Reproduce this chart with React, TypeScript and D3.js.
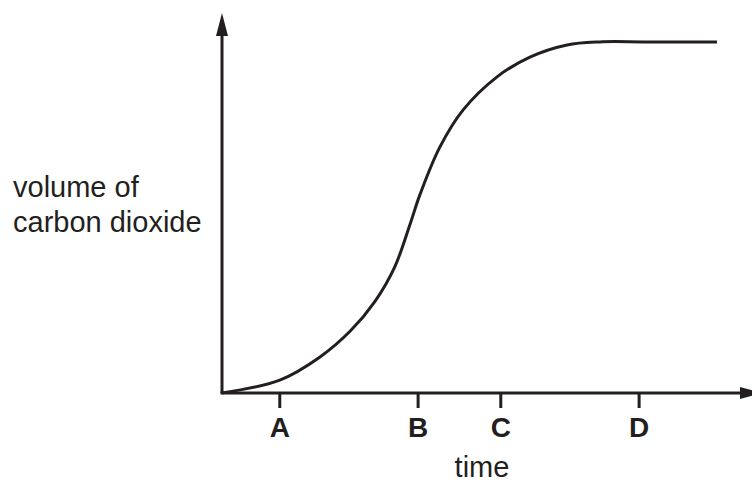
import React from "react";
import * as d3 from "d3";

const timeValues = [0, 10.9, 18.5, 24.2, 28.9, 32.6, 35.5, 37.4, 41.1, 45.5, 51.9, 58.1, 65.1, 71.3, 80.0, 93.4];
const volumeValues = [0, 3.4, 9.5, 16.3, 24.2, 33.2, 44.5, 52.4, 64.7, 74.5, 83.2, 88.4, 91.6, 92.4, 92.4, 92.4];
const tickLabels = ["A", "B", "C", "D"];
const tickPositions = [10.9, 37.0, 52.6, 78.7];
const yLabelLines = ["volume of", "carbon dioxide"];
const xLabel = "time";

const W = 752;
const H = 488;
const INK = "#231f20";

export default function App() {
  const x = d3.scaleLinear().domain([0, 100]).range([222, 752]);
  const y = d3.scaleLinear().domain([0, 100]).range([393, 13]);
  const pts: [number, number][] = timeValues.map((t, i) => [t, volumeValues[i]]);
  const line = d3
    .line<[number, number]>()
    .x((d) => x(d[0]))
    .y((d) => y(d[1]))
    .curve(d3.curveCatmullRom.alpha(0.5));

  const x0 = x(0);
  const y0 = y(0);
  const yTop = y(100);

  return (
    <svg
      width={W}
      height={H}
      style={{ position: "absolute", left: 0, top: 0, background: "#fff" }}
      fontFamily="'Liberation Sans', Arial, sans-serif"
    >
      {/* axes */}
      <line x1={x0} y1={y0} x2={x0} y2={yTop + 20} stroke={INK} strokeWidth={3} />
      <polygon points={`${x0},${yTop} ${x0 - 6},${yTop + 23} ${x0 + 6},${yTop + 23}`} fill={INK} />
      <line x1={x0 - 1.5} y1={y0} x2={742} y2={y0} stroke={INK} strokeWidth={3} />
      <polygon points={`763,${y0} 740,${y0 - 6} 740,${y0 + 6}`} fill={INK} />

      {/* ticks */}
      {tickPositions.map((t, i) => (
        <g key={tickLabels[i]}>
          <line x1={x(t)} y1={y0} x2={x(t)} y2={y0 + 15} stroke={INK} strokeWidth={3} />
          <text
            x={x(t)}
            y={437}
            textAnchor="middle"
            fontWeight="bold"
            fontSize={28}
            fill={INK}
          >
            {tickLabels[i]}
          </text>
        </g>
      ))}

      {/* curve */}
      <path d={line(pts) || ""} fill="none" stroke={INK} strokeWidth={3} />

      {/* labels */}
      {yLabelLines.map((s, i) => (
        <text key={s} x={13} y={197 + i * 35} fontSize={29} fill={INK}>
          {s}
        </text>
      ))}
      <text x={482} y={477} textAnchor="middle" fontSize={29} fill={INK}>
        {xLabel}
      </text>
    </svg>
  );
}
